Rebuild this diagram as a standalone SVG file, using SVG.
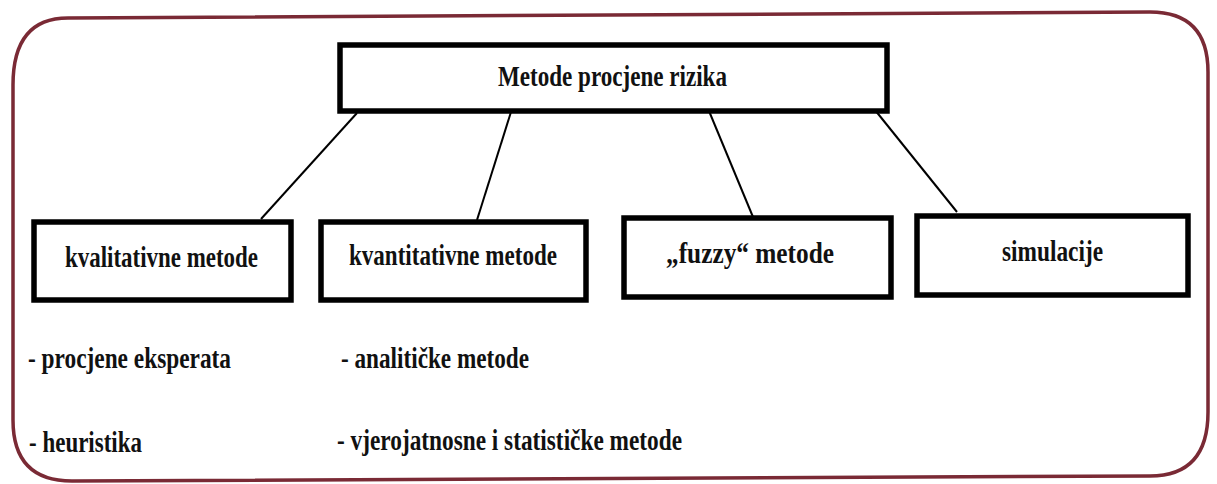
<svg xmlns="http://www.w3.org/2000/svg" width="1217" height="484" viewBox="0 0 1217 484">
<style>
.frame{fill:none;stroke:#7a2a35;stroke-width:3.5}
.box{fill:#fff;stroke:#000;stroke-width:5.5}
.conn line{stroke:#000;stroke-width:2}
text{font-family:"Liberation Serif","Times New Roman",serif;font-weight:bold;font-size:29px;fill:#111}
</style>
<rect width="1217" height="484" fill="#fff"/>
<path class="frame" d="M68,18 L1150,12 Q1208,12 1208,72 L1208,412 Q1208,476 1150,476 L72,481 Q13,481 13,420 L13,85 Q13,18 68,18 Z"/>
<g id="connectors" class="conn">
<line x1="357" y1="113" x2="261" y2="219"/>
<line x1="511" y1="112" x2="477" y2="220"/>
<line x1="709" y1="111" x2="753" y2="217"/>
<line x1="875" y1="110" x2="957" y2="212"/>
</g>
<g id="root">
<rect class="box" x="340" y="45" width="547" height="66"/>
<text x="498" y="86" textLength="229" lengthAdjust="spacingAndGlyphs">Metode procjene rizika</text>
</g>
<g id="kvalitativne">
<rect class="box" x="34" y="222" width="257" height="78"/>
<text x="65" y="267" textLength="193" lengthAdjust="spacingAndGlyphs">kvalitativne metode</text>
</g>
<g id="kvantitativne">
<rect class="box" x="321" y="222" width="265" height="78"/>
<text x="349" y="265" textLength="208" lengthAdjust="spacingAndGlyphs">kvantitativne metode</text>
</g>
<g id="fuzzy">
<rect class="box" x="624" y="218" width="267" height="79"/>
<text x="666" y="263" textLength="168" lengthAdjust="spacingAndGlyphs">„fuzzy“ metode</text>
</g>
<g id="simulacije">
<rect class="box" x="917" y="216" width="271" height="79"/>
<text x="1002" y="261" textLength="101" lengthAdjust="spacingAndGlyphs">simulacije</text>
</g>
<g id="lists">
<text x="28" y="368" textLength="203" lengthAdjust="spacingAndGlyphs">- procjene eksperata</text>
<text x="341" y="368" textLength="188" lengthAdjust="spacingAndGlyphs">- analitičke metode</text>
<text x="29" y="452" textLength="113" lengthAdjust="spacingAndGlyphs">- heuristika</text>
<text x="337" y="450" textLength="345" lengthAdjust="spacingAndGlyphs">- vjerojatnosne i statističke metode</text>
</g>
</svg>
